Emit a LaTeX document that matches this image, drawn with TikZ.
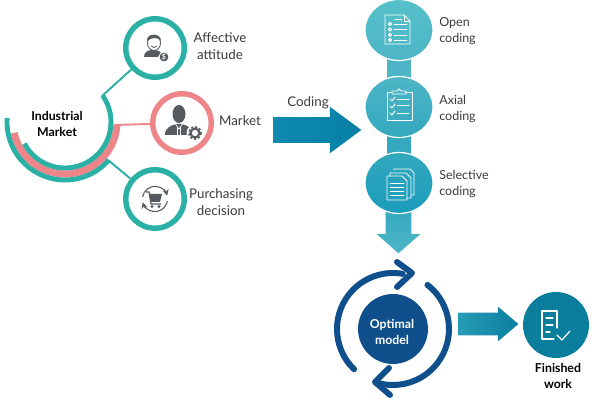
\documentclass[tikz,border=0pt]{standalone}
\usepackage{fontspec}
\usepackage{xcolor}
\usepackage{tikz}
\usetikzlibrary{shapes.geometric,shapes.arrows,backgrounds}
\setmainfont{Lato}
\definecolor{tealring}{HTML}{2BB0A6}
\definecolor{pinkring}{HTML}{EE8589}
\definecolor{icongray}{HTML}{555B5F}
\definecolor{labelgray}{HTML}{3A3A3A}
\definecolor{navyblue}{HTML}{0F4F8C}
\definecolor{finishblue}{HTML}{0B7E9E}
\definecolor{stripone}{HTML}{4DB5C6}
\definecolor{striptwo}{HTML}{33A8BF}
\definecolor{openteal}{HTML}{56C0CA}
\definecolor{selectblue}{HTML}{1A9CBB}
\definecolor{codingleft}{HTML}{1089AE}
\definecolor{codingright}{HTML}{0780A6}
\tikzset{
  ringnode/.style={circle,line width=3.1pt,minimum size=1.17cm,inner sep=0pt,fill=white},
  codingnode/.style={ellipse,draw=white,line width=0.7pt,minimum width=1.36cm,minimum height=1.22cm,inner sep=0pt},
  labeltext/.style={font=\fontsize{7.6}{9.8}\selectfont,text=labelgray,align=center,inner sep=0pt},
  leftlabel/.style={font=\fontsize{7.1}{9.2}\selectfont,text=labelgray,align=left,anchor=west,inner sep=0pt},
  boldtext/.style={font=\fontsize{7}{9.6}\selectfont\bfseries,align=center,inner sep=0pt},
  blockarrow/.style={single arrow,draw=none,inner sep=0pt,single arrow head indent=0pt,anchor=tail},
  iconline/.style={draw=white,line width=0.55pt,line cap=round,line join=round},
  spine/.style={line width=14.2pt},
  loopline/.style={draw=navyblue,line width=3.4pt,line cap=round,line join=round}
}
\begin{document}
\begin{tikzpicture}[x=0.02cm,y=-0.02cm]
  \useasboundingbox (0,0) rectangle (596,405);

  % Arcs around the market label
  \coordinate (hub) at (65,122);
  \draw[pinkring,line width=4pt] (hub) ++(168:52) arc[start angle=168,end angle=3,radius=52];
  \draw[tealring,line width=2.8pt] (hub) ++(-35:46) arc[start angle=-35,end angle=152,radius=46];
  \draw[tealring,line width=2.8pt] (hub) ++(184:58) arc[start angle=184,end angle=41,radius=58];
  \node[boldtext] (industrial) at (57,124) {Industrial\\Market};

  % Three rings
  \node[ringnode,draw=tealring] (affective) at (155,48) {};
  \node[ringnode,draw=pinkring] (market) at (182,123) {};
  \node[ringnode,draw=tealring] (purchasing) at (155,199) {};
  \coordinate (armtop) at (102,96);
  \coordinate (armmid) at (115,125);
  \coordinate (armlow) at (108,160);
  \draw[tealring,line width=1.1pt] (armtop) -- (affective);
  \draw[pinkring,line width=1.1pt] (armmid) -- (market);
  \draw[tealring,line width=1.1pt] (armlow) -- (purchasing);
  \node[labeltext] (affectivetext) at (220,46) {Affective\\attitude};
  \node[labeltext] (markettext) at (240,121) {Market};
  \node[labeltext] (purchasingtext) at (221,202) {Purchasing\\decision};

  % Face icon
  \fill[icongray] (144,57) .. controls (144,52) and (148,50) .. (152,50) .. controls (157,50) and (160,51) .. (161,53) -- (158,57) -- cycle;
  \draw[icongray,fill=white,line width=0.5pt] (154,43) ellipse (6.5 and 7.5);
  \fill[icongray] (147,41) .. controls (146,33) and (161,32) .. (161,41) .. controls (158,37) and (152,37) .. (147,41) -- cycle;
  \draw[icongray,line width=0.5pt] (151,46) .. controls (153,48) and (155,48) .. (157,46);
  \node[circle,fill=icongray,draw=white,line width=0.5pt,minimum size=0.2cm,inner sep=0pt,text=white,font=\fontsize{4}{4}\selectfont\bfseries] (dollar) at (164,57) {\$};

  % Manager icon
  \fill[icongray] (179,114) ellipse (6.5 and 9);
  \fill[icongray] (165,135) .. controls (165,128) and (170,126) .. (176,124) -- (182,124) .. controls (188,126) and (193,128) .. (193,135) -- cycle;
  \draw[white,line width=0.4pt] (175.5,124) -- (179,129) -- (182.5,124);
  \draw[white,line width=0.4pt] (177.5,127) -- (177.5,135);
  \draw[white,line width=0.4pt] (180.5,127) -- (180.5,135);
  \fill[white] (195,133) circle (8.5);
  \draw[icongray,line width=1pt,dash pattern=on 1.2pt off 1.1pt] (195,133) circle (6);
  \draw[icongray,line width=1.2pt] (195,133) circle (4.4);

  % Cart icon
  \coordinate (cartspin) at (155,199);
  \draw[icongray,line width=0.6pt,-stealth] (cartspin) ++(190:12.6) arc[start angle=190,end angle=345,radius=12.6];
  \draw[icongray,line width=0.6pt,-stealth] (cartspin) ++(10:12.6) arc[start angle=10,end angle=165,radius=12.6];
  \fill[icongray] (149,194) -- (162,194) -- (160,202) -- (151,202) -- cycle;
  \draw[icongray,line width=0.7pt] (146,192) -- (149,192) -- (151,204) -- (161,204);
  \fill[icongray] (152,206.5) circle (1.7);
  \fill[icongray] (159,206.5) circle (1.7);

  % Coding arrow
  \node[labeltext] (codingtext) at (308,103) {Coding};
  \node[blockarrow,inner ysep=0.25cm,left color=codingleft,right color=codingright,minimum height=1.76cm,minimum width=0.92cm,single arrow head extend=0.21cm,single arrow tip angle=73] (codingarrow) at (273,130) {};

  % Coding column
  \node[blockarrow,inner xsep=0.25cm,top color=striptwo,bottom color=stripone,minimum height=0.96cm,minimum width=0.86cm,single arrow head extend=0.18cm,single arrow tip angle=97,shape border rotate=270] (downarrow) at (398.5,205) {};
  \node[codingnode,top color=openteal,bottom color=stripone] (open) at (399,30) {};
  \node[codingnode,top color=stripone,bottom color=striptwo] (axial) at (399,107) {};
  \node[codingnode,top color=striptwo,bottom color=selectblue] (selective) at (399,183) {};
  \begin{scope}[on background layer]
    \draw[stripone,spine] (open.center) -- (axial.center);
    \draw[striptwo,spine] (axial.center) -- (selective.center);
  \end{scope}
  \node[leftlabel] (opentext) at (439,31) {Open\\coding};
  \node[leftlabel] (axialtext) at (439,109) {Axial\\coding};
  \node[leftlabel] (selectivetext) at (439,184) {Selective\\coding};

  % Open coding sheet
  \draw[iconline] (385,15) -- (404,15) -- (410,21) -- (410,44) -- (385,44) -- cycle;
  \draw[iconline] (404,15) -- (404,21) -- (410,21);
  \draw[iconline] (395,19) -- (402,19);
  \draw[iconline] (390,24) circle (1.6);
  \draw[iconline] (390,29.5) circle (1.6);
  \draw[iconline] (390,35) circle (1.6);
  \draw[iconline] (390,40) circle (1.6);
  \draw[iconline] (394,24) -- (407,24);
  \draw[iconline] (394,29.5) -- (407,29.5);
  \draw[iconline] (394,35) -- (407,35);
  \draw[iconline] (394,40) -- (407,40);

  % Axial coding clipboard
  \draw[iconline] (392,92) -- (387,92) -- (387,120) -- (412,120) -- (412,92) -- (406,92);
  \draw[iconline] (392,94) -- (392,91) -- (397,91) -- (399,89) -- (401,91) -- (406,91) -- (406,94) -- cycle;
  \draw[iconline] (390,99) -- (392,101) -- (395,97);
  \draw[iconline] (390,106) -- (392,108) -- (395,104);
  \draw[iconline] (390,113) -- (392,115) -- (395,111);
  \draw[iconline] (397,99) -- (409,99);
  \draw[iconline] (397,105) -- (409,105);
  \draw[iconline] (397,113) -- (409,113);

  % Selective coding pages
  \draw[iconline] (394,170) -- (394,169) -- (410,169) -- (414,173) -- (414,195) -- (411,195);
  \draw[iconline] (390,176) -- (390,173) -- (406,173) -- (411,178) -- (411,198) -- (407,198);
  \draw[iconline] (387,176) -- (402,176) -- (407,181) -- (407,200) -- (387,200) -- cycle;
  \draw[iconline] (390,183) -- (404,183);
  \draw[iconline] (390,187) -- (404,187);
  \draw[iconline] (390,191) -- (404,191);
  \draw[iconline] (390,195) -- (404,195);

  % Optimal model loop
  \node[circle,fill=navyblue,minimum size=1.4cm,inner sep=0pt] (optimal) at (393,329) {};
  \node[boldtext,text=white] (optimaltext) at (392,332) {Optimal\\model};
  \draw[loopline] (optimal) ++(134:56) arc[start angle=134,end angle=280,radius=56];
  \draw[loopline] (optimal) ++(-52:56) arc[start angle=-52,end angle=108,radius=56];
  \draw[loopline] (397,262) -- (412,273) -- (397,287);
  \draw[loopline] (389,368) -- (375,382) -- (390,395);

  % Finished work
  \node[circle,fill=finishblue,minimum size=1.32cm,inner sep=0pt] (finished) at (556,325) {};
  \node[blockarrow,inner ysep=0.22cm,left color=striptwo!70!finishblue,right color=finishblue,minimum height=1.2cm,minimum width=0.68cm,single arrow head extend=0.12cm,single arrow tip angle=81] (finisharrow) at (458,324) {};
  \node[boldtext] (finishedtext) at (558,376) {Finished\\work};
  \draw[iconline,line width=0.7pt] (557,328) -- (557,311) -- (542,311) -- (542,339) -- (554,339);
  \draw[iconline,line width=0.7pt] (546,318) -- (553,318);
  \draw[iconline,line width=0.7pt] (546,325) -- (553,325);
  \draw[iconline,line width=0.7pt] (546,332) -- (550,332);
  \draw[iconline,line width=0.7pt] (557,335) -- (562,340) -- (570,331);
\end{tikzpicture}
\end{document}
